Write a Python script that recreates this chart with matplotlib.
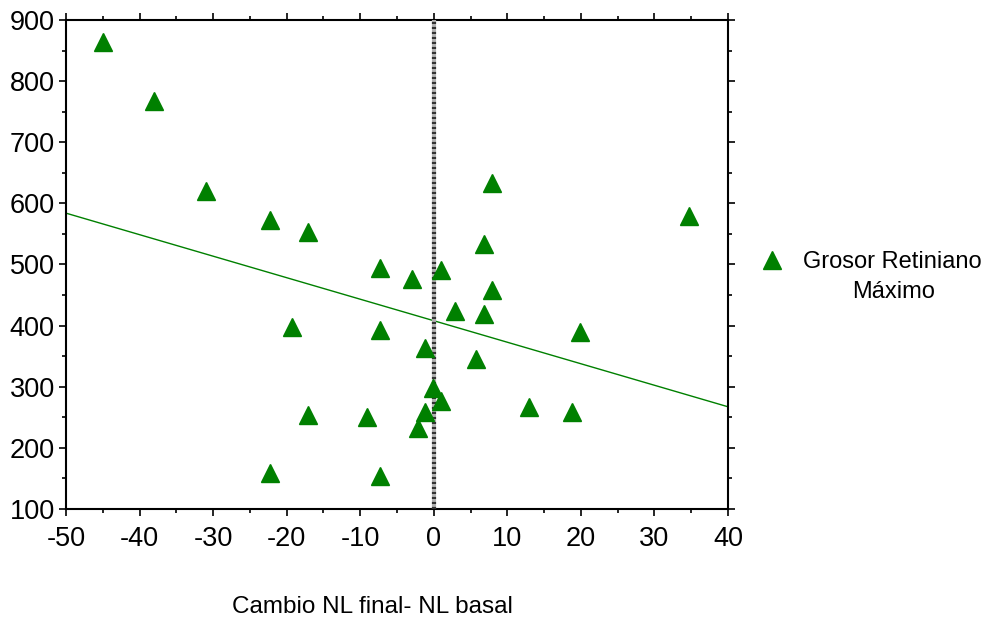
import numpy as np
import matplotlib.pyplot as plt
from matplotlib.ticker import MultipleLocator

plt.rcParams['font.family'] = ['Liberation Sans', 'DejaVu Sans']
plt.rcParams['axes.unicode_minus'] = False

# Cambio NL final - NL basal
cambio_nl = [-45, -38, -31, -22.3, -17.1, -7.3, -3, 1, 7.9, 6.8, 7.9, 2.9, 6.8,
             -19.3, -7.3, -1.2, 5.7, 19.9, 34.7, -0.1, 1, -1.2, -2.1, -9.1,
             -17.1, -22.3, -7.3, 13, 18.8]
# Grosor retiniano maximo
grosor = [864, 767, 620, 573, 553, 494, 476, 491, 633, 533, 458, 424, 419,
          398, 393, 363, 345, 389, 579, 298, 276, 258, 232, 250,
          253, 159, 154, 267, 258]

# linear fit
slope = -3.52
intercept = 408

green = '#008000'

fig = plt.figure(figsize=(9.89, 6.21), dpi=100)
ax = fig.add_axes([0.0667, 0.1804, 0.6694, 0.7874])

x_line = np.array([-50, 40])
ax.plot(x_line, intercept + slope * x_line, color=green, lw=1, zorder=2)

# zero line
ax.axvline(0, color='#b0b0b0', lw=3, zorder=3)
ax.axvline(0, color='#333333', lw=3, linestyle=(0, (0.5, 0.7)), zorder=3)

ax.plot(cambio_nl, grosor, linestyle='none', marker='^', ms=12.5,
        color=green, label='Grosor Retiniano', zorder=4)

ax.set_xlim(-50, 40)
ax.set_ylim(100, 900)
ax.xaxis.set_major_locator(MultipleLocator(10))
ax.xaxis.set_minor_locator(MultipleLocator(5))
ax.yaxis.set_major_locator(MultipleLocator(100))
ax.yaxis.set_minor_locator(MultipleLocator(50))
ax.tick_params(which='both', direction='out', top=True, right=True,
               labelsize=19.5, width=1.2)
ax.tick_params(which='major', length=5)
ax.tick_params(which='minor', length=3)
ax.tick_params(axis='x', which='major', pad=7)
ax.tick_params(axis='y', which='major', pad=3)
for s in ax.spines.values():
    s.set_linewidth(1.5)

fig.text(372 / 989, 1 - 607 / 621, 'Cambio NL final- NL basal',
         ha='center', va='center', fontsize=17.5)

leg = ax.legend(loc='center left', bbox_to_anchor=(744 / 989, 1 - 262 / 621),
                bbox_transform=fig.transFigure, frameon=False, fontsize=17,
                handletextpad=0.6, handlelength=1.4, borderpad=0)
# second line of the legend label, centred under the first
fig.text(894 / 989, 1 - 292 / 621, 'Máximo', ha='center', va='center',
         fontsize=17)

fig.savefig('out.png', dpi=100)
